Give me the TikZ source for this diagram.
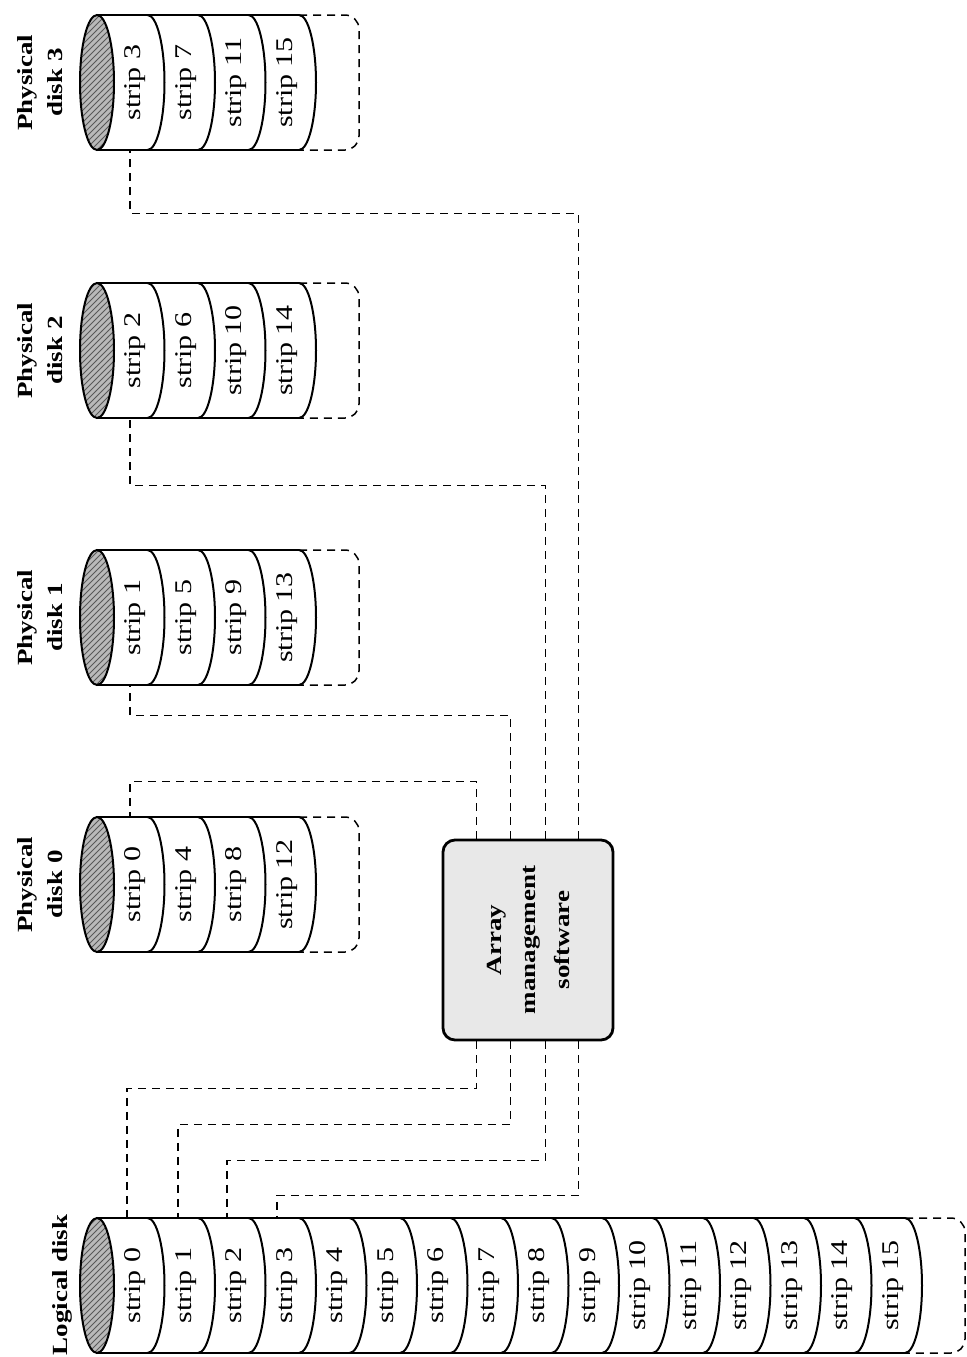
\documentclass[tikz,border=0pt]{standalone}
\usepackage{fontspec}
\setmainfont{Liberation Serif}
\usetikzlibrary{patterns,calc}
\tikzset{
  body/.style={line width=1pt},
  conn/.style={line width=0.75pt, dash pattern=on 4pt off 3pt},
  dashedend/.style={line width=0.75pt, dash pattern=on 4pt off 3pt, rounded corners=7pt},
  striplab/.style={rotate=90, inner sep=0pt, font=\fontsize{15}{17}\selectfont},
  disklab/.style={rotate=90, inner sep=0pt, align=center, font=\bfseries\fontsize{13.5}{15}\selectfont},
  boxlab/.style={rotate=90, inner sep=0pt, align=center, font=\bfseries\fontsize{13.5}{17}\selectfont},
  amsbox/.style={draw, line width=1.4pt, fill=gray!18, rounded corners=6pt, minimum width=85pt, minimum height=100pt, inner sep=0pt},
}
\newcommand\sq[1]{\scalebox{1}[0.8]{#1}}
\newcommand\mydisk[5]{%
  \pgfmathsetmacro\yb{#2+135}%
  \pgfmathsetmacro\yc{#2+67.5}%
  \pgfmathsetmacro\xe{97+50.5*#3}%
  \draw[body] (97,#2) -- (\xe,#2);
  \draw[body] (97,\yb) -- (\xe,\yb);
  \fill[gray!55] (97,\yc) ellipse[x radius=8.5pt,y radius=33.75pt];
  \fill[pattern=north east lines, pattern color=gray!70!black] (97,\yc) ellipse[x radius=8.5pt,y radius=33.75pt];
  \draw[body] (97,\yc) ellipse[x radius=8.5pt,y radius=33.75pt];
  \foreach \k in {1,...,#3}{
    \pgfmathsetmacro\xc{97+50.5*\k}
    \draw[body] (\xc,#2) arc[start angle=90,end angle=-90,x radius=8.5pt,y radius=33.75pt];
    \pgfmathsetmacro\xt{97+50.5*\k-25.25+13}
    \pgfmathtruncatemacro\lab{#4+#5*(\k-1)}
    \node[striplab] (#1s\k) at (\xt,\yc) {\sq{strip \lab}};
  }
  \draw[dashedend] (\xe,#2) -- (\xe+60,#2) -- (\xe+60,\yb) -- (\xe,\yb);
}
\begin{document}
\begin{tikzpicture}[x=0.5pt,y=-0.5pt]
\useasboundingbox (0,0) rectangle (966,1357);
\fill[white] (0,0) rectangle (966,1357);

% physical disks
\mydisk{pd3}{15}{4}{3}{4}
\mydisk{pd2}{283}{4}{2}{4}
\mydisk{pd1}{550}{4}{1}{4}
\mydisk{pd0}{817}{4}{0}{4}
% logical disk
\mydisk{ld}{1218}{16}{0}{1}

% labels
\node[disklab] (lab3) at (40,82.5) {\sq{Physical}\\\sq{disk 3}};
\node[disklab] (lab2) at (40,350.5) {\sq{Physical}\\\sq{disk 2}};
\node[disklab] (lab1) at (40,617.5) {\sq{Physical}\\\sq{disk 1}};
\node[disklab] (lab0) at (40,884.5) {\sq{Physical}\\\sq{disk 0}};
\node[disklab] (labl) at (62,1285) {\sq{Logical disk}};

% array management software
\node[amsbox] (ams) at (528,940) {};
\node[boxlab] (amstext) at (ams.center) {\sq{Array}\\\sq{management}\\\sq{software}};

% connection points
\coordinate (p0c) at (130,817);
\coordinate (p1c) at (130,685);
\coordinate (p2c) at (130,418);
\coordinate (p3c) at (130,150);
\coordinate (l0c) at (127,1218);
\coordinate (l1c) at (178,1218);
\coordinate (l2c) at (227,1218);
\coordinate (l3c) at (277,1218);

% connectors to physical disks
\draw[conn] ($(ams.north west)+(35,0)$) -- ++(0,-57) -| (p0c);
\draw[conn] ($(ams.north west)+(69,0)$) -- ++(0,-123) -| (p1c);
\draw[conn] ($(ams.north west)+(104,0)$) -- ++(0,-353) -| (p2c);
\draw[conn] ($(ams.north west)+(137,0)$) -- ++(0,-625) -| (p3c);

% connectors to logical disk
\draw[conn] ($(ams.south west)+(35,0)$) -- ++(0,47) -| (l0c);
\draw[conn] ($(ams.south west)+(69,0)$) -- ++(0,83) -| (l1c);
\draw[conn] ($(ams.south west)+(104,0)$) -- ++(0,119) -| (l2c);
\draw[conn] ($(ams.south west)+(137,0)$) -- ++(0,154) -| (l3c);
\end{tikzpicture}
\end{document}
